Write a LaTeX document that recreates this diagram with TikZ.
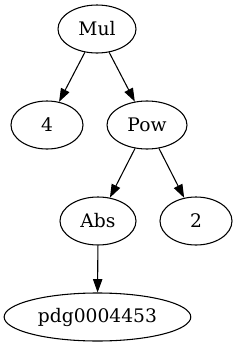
\documentclass[tikz,border=0pt]{standalone}
\usepackage{fontspec}
\setmainfont{DejaVu Serif}
\usetikzlibrary{shapes.geometric,arrows.meta}
\begin{document}
\begin{tikzpicture}[x=1pt,y=1pt,
  gvnode/.style={draw,ellipse,line width=0.8pt,inner sep=0pt,minimum height=36pt,
    font=\fontsize{14}{16}\selectfont},
  gvedge/.style={draw,line width=0.8pt,-{Triangle[length=10pt,width=7pt]}}]
\useasboundingbox (0,0) rectangle (177.75,-260.25);
\node[gvnode,minimum width=58.5pt] (mul) at (72.75,-21.75) {Mul};
\node[gvnode,minimum width=54pt] (four) at (35.25,-93.75) {4};
\node[gvnode,minimum width=60pt] (pow) at (110.25,-93.75) {Pow};
\node[gvnode,minimum width=57pt] (abs) at (73.5,-165.75) {Abs};
\node[gvnode,minimum width=54pt] (two) at (147,-165.75) {2};
\node[gvnode,minimum width=140pt] (pdg) at (73.1,-237.75) {pdg0004453};
\draw[gvedge] (mul) -- (four);
\draw[gvedge] (mul) -- (pow);
\draw[gvedge] (pow) -- (abs);
\draw[gvedge] (pow) -- (two);
\draw[gvedge] (abs) -- (pdg);
\end{tikzpicture}
\end{document}
